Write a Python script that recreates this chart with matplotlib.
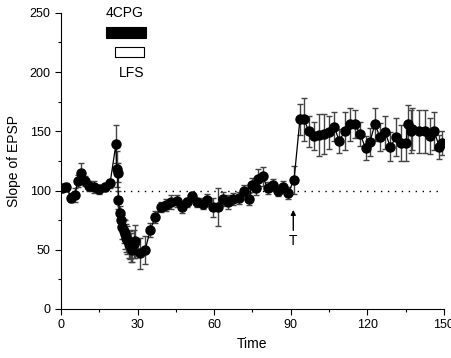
import matplotlib
matplotlib.use("Agg")
import matplotlib.pyplot as plt
from matplotlib.patches import Rectangle

plt.rcParams['font.family'] = ['Liberation Sans', 'DejaVu Sans']

time = [0.5, 2, 4, 5.5, 6.5, 7.7, 9.2, 11, 13, 15, 17.2, 19.2, 21.5, 21.8, 22.2,
        22.5, 23, 23.5, 24, 24.5, 25, 25.5, 26, 26.5, 27, 27.5, 28, 28.5, 29,
        31, 33, 35, 37, 39.3, 41.2, 43.2, 45.3, 47.3, 49.3, 51.5, 53.4, 55.5,
        57.3, 59.4, 61.6, 63.6, 65.5, 67.5, 69.7, 71.7, 73.8, 74.7, 76.4, 77,
        79, 80.9, 82.9, 84.9, 86.8, 89, 91.3, 93.6, 95.2, 97.1, 99.1, 101.2,
        103.1, 105.1, 107, 109, 111.2, 113.2, 115.2, 117.1, 119.3, 121, 123,
        125, 127, 129, 131.3, 133.3, 135.2, 136, 137, 137.7, 140.3, 142.5,
        144.5, 146.2, 148.2, 149.2]
slope = [102, 103, 94, 96, 108, 115, 108, 104, 103, 101, 103, 106, 139, 118, 115,
         92, 81, 75, 69, 66, 63, 60, 58, 55, 54, 52, 50, 55, 57,
         47, 50, 67, 78, 86, 88, 90, 91, 86, 90, 95, 90, 89,
         92, 86, 86, 93, 90, 93, 94, 100, 93, 105, 102, 110,
         112, 102, 105, 100, 103, 98, 109, 160, 160, 150, 146, 147,
         148, 149, 154, 142, 150, 156, 156, 148, 136, 141, 156,
         145, 149, 137, 145, 140, 140, 156, 150, 152, 150, 150,
         146, 150, 137, 140]
sem = [3, 3, 4, 6, 5, 8, 4, 4, 5, 4, 3, 4, 16, 15, 8,
       8, 6, 8, 10, 10, 12, 12, 12, 12, 12, 12, 10, 12, 14,
       13, 12, 6, 5, 4, 5, 6, 5, 5, 4, 4, 4, 5,
       5, 8, 16, 6, 6, 5, 5, 5, 5, 6, 6, 8,
       8, 5, 5, 5, 5, 5, 12, 13, 18, 13, 12, 18,
       17, 14, 12, 10, 16, 14, 12, 10, 10, 12, 14,
       12, 14, 12, 16, 15, 15, 16, 18, 18, 18, 18,
       15, 16, 10, 10]

x_ticks = [0, 30, 60, 90, 120, 150]
y_ticks = [0, 50, 100, 150, 200, 250]

fig = plt.figure(figsize=(4.52, 3.58), dpi=100)
ax = fig.add_axes([0.135, 0.137, 0.847, 0.827])

ax.errorbar(time, slope, yerr=sem, fmt='-o', color='black', ecolor='#444444',
            elinewidth=1.0, capsize=2.5, capthick=1.0, markersize=6.5,
            linewidth=0.9, zorder=3)

ax.plot([0, 148], [100, 100], linestyle=(0, (1, 4)), color='black', linewidth=1.0, zorder=1)

# drug / stimulation bars
ax.add_patch(Rectangle((17.5, 229), 15.7, 9, facecolor='black', edgecolor='black', lw=0.8))
ax.add_patch(Rectangle((21.1, 212.6), 11.4, 8.4, facecolor='white', edgecolor='black', lw=0.8))
ax.text(25, 250, '4CPG', ha='center', va='center', fontsize=10)
ax.text(27.5, 199.5, 'LFS', ha='center', va='center', fontsize=10)

ax.annotate('', xy=(91, 86), xytext=(91, 64),
            arrowprops=dict(arrowstyle='-|>', color='black', lw=1.0, mutation_scale=7))
ax.text(91, 57.5, 'T', ha='center', va='center', fontsize=10)

ax.set_xlim(0, 150)
ax.set_ylim(0, 250)
ax.set_xticks(x_ticks)
ax.set_yticks(y_ticks)
ax.set_xticks([15, 45, 75, 105, 135], minor=True)
ax.set_yticks([25, 75, 125, 175, 225], minor=True)
ax.tick_params(which='major', direction='out', length=4, width=0.8, labelsize=9)
ax.tick_params(which='minor', direction='out', length=2.5, width=0.8)
for s in ['top', 'right']:
    ax.spines[s].set_visible(False)
ax.spines['left'].set_linewidth(0.8)
ax.spines['bottom'].set_linewidth(0.8)
ax.set_xlabel('Time', fontsize=10, labelpad=4)
ax.set_ylabel('Slope of EPSP', fontsize=10, labelpad=6)

fig.savefig('out.png', dpi=100)
